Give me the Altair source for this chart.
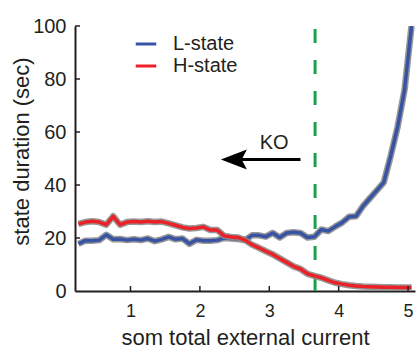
import altair as alt
import pandas as pd

FONT = "Liberation Sans"
INK = "#231f20"

# x positions (som total external current)
x_vals = [0.25, 0.35, 0.45, 0.55, 0.65, 0.75, 0.85, 0.95, 1.05, 1.15,
          1.25, 1.35, 1.45, 1.55, 1.65, 1.75, 1.85, 1.95, 2.05, 2.15,
          2.25, 2.35, 2.45, 2.55, 2.65, 2.75, 2.85, 2.95, 3.05, 3.15,
          3.25, 3.35, 3.45, 3.55, 3.65, 3.75, 3.85, 3.95, 4.05, 4.15,
          4.25, 4.35, 4.45, 4.55, 4.65, 4.75, 4.85, 4.95, 5.05]

# state durations (sec)
l_state = [17.8, 19.0, 19.0, 19.2, 21.2, 19.5, 19.6, 19.2, 19.5, 19.2,
           19.8, 18.8, 19.5, 20.4, 19.5, 19.8, 17.8, 19.3, 19.0, 19.0,
           19.2, 20.0, 19.8, 19.6, 19.2, 21.0, 21.0, 20.5, 21.9, 20.2,
           21.9, 22.2, 21.9, 20.2, 20.5, 23.2, 22.6, 24.3, 25.8, 28.0,
           28.2, 32.0, 35.0, 38.0, 41.0, 51.0, 62.0, 76.0, 100.0]

h_state = [25.3, 26.0, 26.3, 26.0, 25.0, 28.2, 25.0, 26.0, 26.2, 26.0,
           26.3, 26.0, 26.2, 25.5, 24.8, 24.0, 23.6, 23.8, 24.2, 23.0,
           23.0, 20.8, 20.4, 20.2, 19.2, 17.5, 16.3, 15.0, 13.8, 12.3,
           10.8, 9.3, 8.3, 6.5, 5.7, 5.0, 4.0, 3.1, 2.6, 2.2,
           1.9, 1.7, 1.6, 1.5, 1.4, 1.4, 1.3, 1.3, 1.3]

series_names = ["L-state", "H-state"]
series_colors = ["#3953a4", "#ec2027"]

y_ticks = [0, 20, 40, 60, 80, 100]
x_ticks = [1, 2, 3, 4, 5]

ko_line_x = 3.66
arrow_tip_x = 2.45
arrow_tail_x = 3.45
arrow_head_x = 2.49
arrow_y = 49.6
ko_label_x = 3.07
ko_label_y = 56.0

df = pd.DataFrame({
    "x": x_vals * 2,
    "y": l_state + h_state,
    "state": ["L-state"] * len(x_vals) + ["H-state"] * len(x_vals),
})

x_scale = alt.Scale(domain=[0.2, 5.1], nice=False, zero=False)
y_scale = alt.Scale(domain=[0, 100], nice=False)

x_enc = alt.X("x:Q", scale=x_scale, axis=alt.Axis(
    values=x_ticks, title="som total external current", grid=False, ticks=False,
    labelFontSize=18, labelPadding=11, titleFontSize=22,
    titleBaseline="alphabetic", titleY=53,
    titleFontWeight="normal", labelFont=FONT, titleFont=FONT,
    labelColor=INK, titleColor=INK, domainColor=INK, domainWidth=2,
    format="d"))
y_enc = alt.Y("y:Q", scale=y_scale, axis=alt.Axis(
    values=y_ticks, title="state duration (sec)", grid=False, ticks=False,
    labelFontSize=20, labelPadding=9, titleFontSize=22,
    titleX=-42, titleY=125, titleBaseline="bottom", titleAlign="center", titleAngle=270,
    titleFontWeight="normal", labelFont=FONT, titleFont=FONT,
    labelColor=INK, titleColor=INK, domainColor=INK, domainWidth=2))

base = alt.Chart(df)
layers = []
for name, col in zip(series_names, series_colors):
    sub = base.transform_filter(alt.datum.state == name)
    layers.append(sub.mark_line(strokeWidth=6.5, color="#8c8c8c", opacity=0.9,
                                strokeJoin="round", clip=True).encode(x=x_enc, y=y_enc, detail="state:N"))
    layers.append(sub.mark_line(strokeWidth=3.5, strokeJoin="round", clip=True).encode(
        x=x_enc, y=y_enc,
        color=alt.Color("state:N", scale=alt.Scale(domain=series_names, range=series_colors),
                        legend=alt.Legend(
                            title=None, orient="none", legendX=59, legendY=6,
                            symbolType="stroke", symbolSize=420, symbolStrokeWidth=3,
                            labelFontSize=20, labelOffset=15, rowPadding=0,
                            padding=0, labelFont=FONT, labelColor=INK))))

vline = alt.Chart(pd.DataFrame({"x": [ko_line_x], "y": [0], "y2": [99]})).mark_rule(
    color="#1ba04b", strokeWidth=3, strokeDash=[14, 17]).encode(x="x:Q", y="y:Q", y2="y2:Q")

shaft = alt.Chart(pd.DataFrame({"x": [arrow_tip_x], "x2": [arrow_tail_x], "y": [arrow_y]})).mark_rule(
    color="#000000", strokeWidth=3).encode(x="x:Q", x2="x2:Q", y="y:Q")

head = alt.Chart(pd.DataFrame({"x": [arrow_head_x], "y": [arrow_y]})).mark_point(
    shape="M -1 0 L 1 -0.77 L 0.6 0 L 1 0.77 Z", filled=True, color="#000000",
    size=676, opacity=1).encode(x="x:Q", y="y:Q")

ko = alt.Chart(pd.DataFrame({"x": [ko_label_x], "y": [ko_label_y], "t": ["KO"]})).mark_text(
    fontSize=20, font=FONT, color=INK, baseline="middle", align="center").encode(
    x="x:Q", y="y:Q", text="t:N")

yt = alt.Chart(pd.DataFrame({"y": y_ticks[1:]})).mark_rule(color=INK, strokeWidth=1.5).encode(
    y="y:Q", x=alt.value(0), x2=alt.value(5))
xt = alt.Chart(pd.DataFrame({"x": x_ticks})).mark_rule(color=INK, strokeWidth=1.5).encode(
    x="x:Q", y=alt.value(265), y2=alt.value(260))

chart = alt.layer(vline, *layers, shaft, head, ko, yt, xt).properties(
    width=340, height=265,
    background="white",
    autosize=alt.AutoSizeParams(type="none"),
    padding={"left": 75, "top": 26, "right": 1, "bottom": 61},
).configure_view(stroke=None)

chart.save("out.html", embed_options={"renderer": "svg", "actions": False})
